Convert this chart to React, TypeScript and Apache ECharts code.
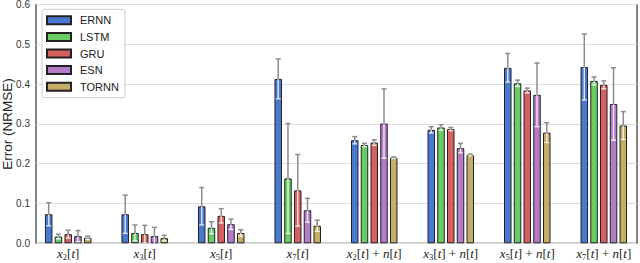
import React, { useEffect, useRef } from "react";
import * as echarts from "echarts";

const categories = ["x2[t]", "x3[t]", "x5[t]", "x7[t]", "x2[t] + n[t]", "x3[t] + n[t]", "x5[t] + n[t]", "x7[t] + n[t]"];
const models = ["ERNN", "LSTM", "GRU", "ESN", "TORNN"];
const colors = ["#4878CF", "#6ACC65", "#D65F5F", "#B47CC7", "#C4AD66"];

const ernnMean = [0.073, 0.073, 0.093, 0.413, 0.259, 0.285, 0.441, 0.443];
const ernnStd = [0.029, 0.048, 0.047, 0.050, 0.009, 0.008, 0.036, 0.083];
const lstmMean = [0.017, 0.026, 0.039, 0.163, 0.247, 0.291, 0.402, 0.408];
const lstmStd = [0.006, 0.020, 0.015, 0.138, 0.004, 0.007, 0.008, 0.010];
const gruMean = [0.023, 0.023, 0.069, 0.133, 0.253, 0.287, 0.384, 0.398];
const gruStd = [0.010, 0.022, 0.018, 0.090, 0.007, 0.004, 0.006, 0.010];
const esnMean = [0.018, 0.018, 0.048, 0.083, 0.301, 0.239, 0.373, 0.350];
const esnStd = [0.014, 0.022, 0.013, 0.030, 0.087, 0.012, 0.080, 0.091];
const tornnMean = [0.014, 0.013, 0.026, 0.044, 0.215, 0.222, 0.278, 0.296];
const tornnStd = [0.004, 0.007, 0.008, 0.014, 0.002, 0.002, 0.025, 0.035];

const yTicks = [0, 0.1, 0.2, 0.3, 0.4, 0.5, 0.6];

const means = [ernnMean, lstmMean, gruMean, esnMean, tornnMean];
const stds = [ernnStd, lstmStd, gruStd, esnStd, tornnStd];

const BAR_W = 7.5;
const BAR_GAP = 0.3;
const PITCH = BAR_W * (1 + BAR_GAP);

function fmtLabel(v: string) {
  return v
    .replace(/x(\d)\[t\]/g, "{i|x}{s|$1}{r|[}{i|t}{r|]}")
    .replace(/ \+ n\[t\]/g, "{r| + }{i|n}{r|[}{i|t}{r|]}");
}

export default function App() {
  const ref = useRef<HTMLDivElement>(null);
  useEffect(() => {
    if (!ref.current) return;
    const chart = echarts.init(ref.current, undefined, { renderer: "svg" });
    const sans = "Liberation Sans, Arial, sans-serif";
    const serif = "Liberation Serif, Times New Roman, serif";
    const barSeries = models.map((m, k) => ({
      name: m,
      type: "bar",
      xAxisIndex: 1,
      yAxisIndex: 1,
      data: means[k],
      barWidth: BAR_W,
      barGap: BAR_GAP * 100 + "%",
      itemStyle: { color: colors[k], borderColor: "#222", borderWidth: 1 },
      z: 2,
    }));
    const errSeries = models.map((m, k) => ({
      name: m + "-err",
      type: "custom",
      xAxisIndex: 1,
      yAxisIndex: 1,
      z: 5,
      silent: true,
      data: means[k].map((v, i) => [i, v, stds[k][i]]),
      renderItem: (params: any, api: any) => {
        const i = api.value(0);
        const v = api.value(1);
        const s = api.value(2);
        const c = api.coord([i, v]);
        const up = api.coord([i, v + s]);
        const lo = api.coord([i, v - s]);
        const x = c[0] + (k - 2) * PITCH;
        const white = { stroke: "rgba(255,255,255,0.8)", lineWidth: 1.4 };
        const grey = { stroke: "#8c8c8c", lineWidth: 1.5 };
        return {
          type: "group",
          children: [
            { type: "line", shape: { x1: x, y1: lo[1], x2: x, y2: c[1] }, style: white },
            { type: "line", shape: { x1: x - 2.5, y1: lo[1], x2: x + 2.5, y2: lo[1] }, style: white },
            { type: "line", shape: { x1: x, y1: c[1], x2: x, y2: up[1] }, style: grey },
            { type: "line", shape: { x1: x - 2.5, y1: up[1], x2: x + 2.5, y2: up[1] }, style: grey },
          ],
        };
      },
    }));
    chart.setOption({
      animation: false,
      backgroundColor: "#fff",
      grid: [
        { left: 36, right: 3, top: 4.5, bottom: 19.7, show: true, borderColor: "#333", borderWidth: 1.2, backgroundColor: "transparent", containLabel: false, outerBoundsMode: "none" },
        { left: 29.94, right: -2.04, top: 4.5, bottom: 19.7, show: false, containLabel: false, outerBoundsMode: "none" },
      ],
      legend: {
        data: models,
        orient: "vertical",
        left: 42,
        top: 9.3,
        itemWidth: 24,
        itemHeight: 8,
        itemGap: 4.6,
        padding: [5, 6, 5, 4],
        backgroundColor: "rgba(255,255,255,0.85)",
        borderColor: "#cccccc",
        borderWidth: 1,
        borderRadius: 2,
        icon: "rect",
        textStyle: { fontFamily: sans, fontSize: 11, color: "#222", lineHeight: 12, padding: [0, 0, 0, 4] },
      },
      xAxis: [
        { type: "category", gridIndex: 0, data: categories, show: false },
        {
          type: "category",
          gridIndex: 1,
          data: categories,
          axisLine: { show: false },
          axisTick: { show: false },
          axisLabel: {
            margin: 2,
            interval: 0,
            formatter: fmtLabel,
            rich: {
              i: { fontFamily: serif, fontStyle: "italic", fontSize: 13, color: "#222", lineHeight: 16 },
              r: { fontFamily: serif, fontSize: 13, color: "#222", lineHeight: 16 },
              s: { fontFamily: serif, fontSize: 8.5, color: "#222", lineHeight: 9, verticalAlign: "bottom" },
            },
          },
        },
      ],
      yAxis: [
        {
          type: "value",
          gridIndex: 0,
          min: yTicks[0],
          max: yTicks[yTicks.length - 1],
          interval: 0.1,
          name: "Error (NRMSE)",
          nameLocation: "middle",
          nameGap: 22,
          nameMoveOverlap: false,
          nameTextStyle: { fontFamily: sans, fontSize: 13.5, color: "#222" },
          axisLine: { show: false },
          axisTick: { show: false },
          axisLabel: { fontFamily: sans, fontSize: 10, color: "#333", margin: 6, formatter: (v: number) => v.toFixed(1) },
          splitLine: { show: true, lineStyle: { color: "#dddddd", width: 1 } },
        },
        { type: "value", gridIndex: 1, min: 0, max: 0.6, interval: 0.1, show: false, splitLine: { show: false } },
      ],
      series: [...barSeries, ...errSeries],
    });
    return () => chart.dispose();
  }, []);
  return <div ref={ref} style={{ position: "absolute", left: 0, top: 0, width: 640, height: 263 }} />;
}
